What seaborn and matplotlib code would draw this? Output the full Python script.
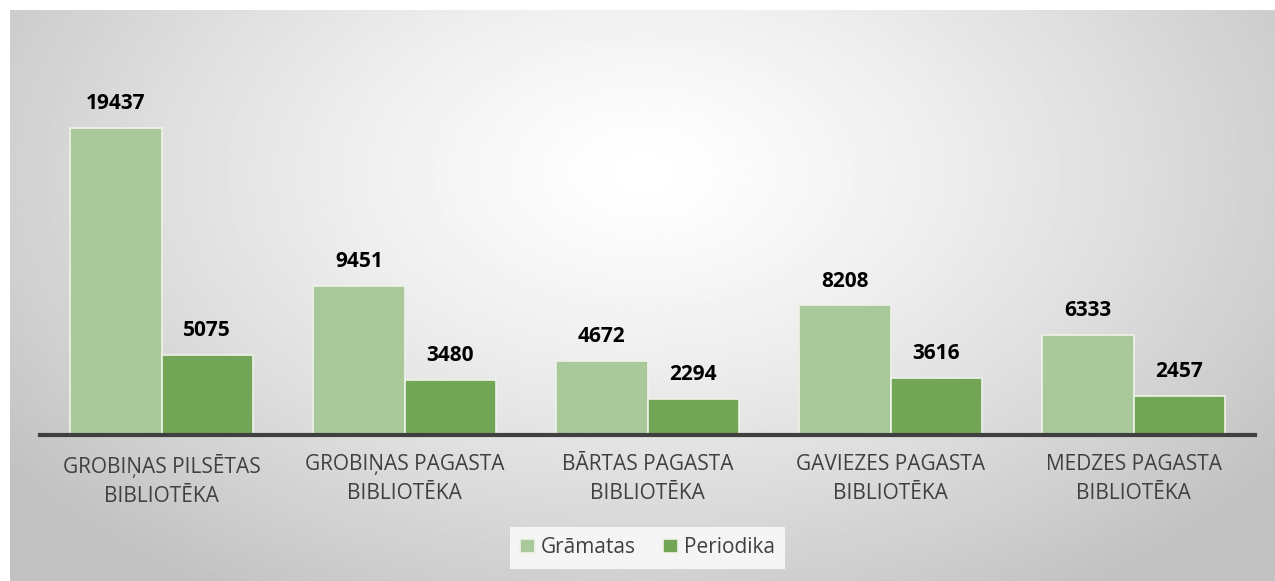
import numpy as np
import pandas as pd
import matplotlib
matplotlib.use("Agg")
import matplotlib.pyplot as plt
import seaborn as sns

bibliotekas = ["GROBIŅAS PILSĒTAS\nBIBLIOTĒKA", "GROBIŅAS PAGASTA\nBIBLIOTĒKA",
               "BĀRTAS PAGASTA\nBIBLIOTĒKA", "GAVIEZES PAGASTA\nBIBLIOTĒKA",
               "MEDZES PAGASTA\nBIBLIOTĒKA"]
gramatas = [19437, 9451, 4672, 8208, 6333]
periodika = [5075, 3480, 2294, 3616, 2457]

df = pd.DataFrame({"Bibliotēka": bibliotekas * 2,
                   "Skaits": gramatas + periodika,
                   "Veids": ["Grāmatas"] * 5 + ["Periodika"] * 5})

sns.set_style("white")
plt.rcParams['font.family'] = ['Open Sans', 'DejaVu Sans']

W, H = 1275, 581
fig = plt.figure(figsize=(W / 100, H / 100), dpi=100)
fig.patch.set_facecolor("white")

# radial gradient background
bg = fig.add_axes([10 / W, 0, (W - 10) / W, (H - 10) / H])
yy, xx = np.mgrid[0:300, 0:600]
cx, cy = 300, 85
r = np.sqrt(((xx - cx) / 600) ** 2 + ((yy - cy) / 300) ** 2 * 0.5)
r = np.clip(r / 0.62, 0, 1)
grad = 1.0 - 0.24 * r ** 1.3
bg.imshow(grad, cmap="gray", vmin=0, vmax=1, aspect="auto", interpolation="bilinear")
bg.axis("off")

ax = fig.add_axes([40 / W, (H - 435) / H, 1215 / W, 375 / H])
ax.patch.set_alpha(0)

pal = ["#a9c99b", "#72a556"]
sns.barplot(data=df, x="Bibliotēka", y="Skaits", hue="Veids", palette=pal,
            width=0.75, edgecolor="#eef3ea", linewidth=1.2, saturation=1, ax=ax)

for c in ax.containers:
    ax.bar_label(c, padding=10, fontsize=15, fontweight="bold", color="black")

ax.set_ylim(0, 23750)
ax.set_xlim(-0.5, 4.5)
ax.set_yticks([])
ax.set_xlabel("")
ax.set_ylabel("")
for s in ["top", "left", "right"]:
    ax.spines[s].set_visible(False)
ax.spines["bottom"].set_color("#404040")
ax.spines["bottom"].set_linewidth(3)
ax.tick_params(axis="x", length=0, pad=14, labelsize=15, labelcolor="#404040")
for t in ax.get_xticklabels():
    t.set_linespacing(1.45)

leg = ax.legend(loc="upper center", bbox_to_anchor=(0.5, -0.245), ncol=2,
                frameon=True, fontsize=15, handlelength=0.7, handleheight=0.7,
                handletextpad=0.3, columnspacing=1.3, borderpad=0.5,
                borderaxespad=0)
leg.get_frame().set_facecolor("#f5f5f5")
leg.get_frame().set_edgecolor("none")
leg.get_frame().set_alpha(1)
leg.get_frame().set_boxstyle("square", pad=0)
for t in leg.get_texts():
    t.set_color("#404040")

fig.savefig("out.png", dpi=100)
